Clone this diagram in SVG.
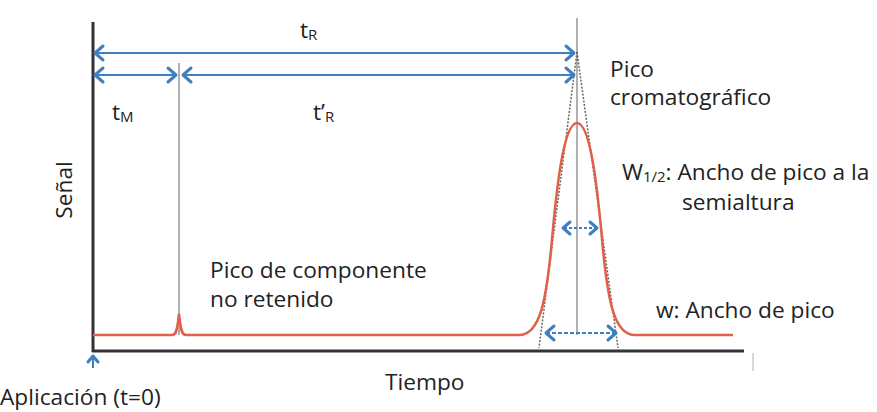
<svg xmlns="http://www.w3.org/2000/svg" width="877" height="412" viewBox="0 0 877 412">
<style>
text{font-family:"Open Sans",Lato,"Liberation Sans",sans-serif;font-size:22.7px;fill:#222}
.sub{font-size:15px}
.blue{stroke:#3f7fc0;stroke-width:2;fill:none}
.head{stroke:#3f7fc0;stroke-width:3;fill:none;stroke-linecap:round;stroke-linejoin:round}
.gray{stroke:#b0b0b0;stroke-width:2;fill:none}
.tan{stroke:#666;stroke-width:1.5;stroke-dasharray:2 1.5;fill:none}
.red{stroke:#e0604a;stroke-width:2.5;fill:none}
</style>
<rect width="877" height="412" fill="#fff"/>
<g id="axes">
<line x1="93" y1="22" x2="93" y2="352" stroke="#333" stroke-width="3"/>
<line x1="92" y1="351" x2="744" y2="351" stroke="#333" stroke-width="3"/>
<line x1="753" y1="353" x2="753" y2="371" stroke="#ccc" stroke-width="1.5"/>
</g>
<g id="guides">
<line class="gray" x1="179" y1="63" x2="179" y2="335"/>
<line class="gray" x1="577" y1="18" x2="577" y2="335"/>
<line class="tan" x1="577" y1="52" x2="539" y2="348"/>
<line class="tan" x1="577" y1="52" x2="618" y2="348"/>
</g>
<g id="signal">
<path class="red" d="M93,335 H172 C176,335 177,330 178,322 L179,314 L180,322 C181,330 182,335 186,335 H520 C540,334 546,300 551,250 C556,193 563,123 577,123 C591,123 598,193 603,250 C608,300 614,334 634,335 H733"/>
</g>
<g id="connectors">
<line class="blue" x1="95" y1="53" x2="574" y2="53"/>
<polyline class="head" points="103,46 95,53 103,60"/>
<polyline class="head" points="566,46 574,53 566,60"/>
<line class="blue" x1="95" y1="75" x2="176" y2="75"/>
<polyline class="head" points="103,68 95,75 103,82"/>
<polyline class="head" points="168,68 176,75 168,82"/>
<line class="blue" x1="183" y1="75" x2="574" y2="75"/>
<polyline class="head" points="191,68 183,75 191,82"/>
<polyline class="head" points="566,68 574,75 566,82"/>
<line class="blue" x1="564" y1="228" x2="596" y2="228" stroke-dasharray="3 2"/>
<polyline class="head" points="570,222 563,228 570,234"/>
<polyline class="head" points="590,222 597,228 590,234"/>
<line class="blue" x1="546" y1="333" x2="615" y2="333" stroke-dasharray="4 2"/>
<polyline class="head" points="554,326 546,333 554,340"/>
<polyline class="head" points="608,326 616,333 608,340"/>
<line class="blue" x1="93" y1="356" x2="93" y2="368"/>
<polyline class="head" points="88,362 93,356 98,362"/>
</g>
<g id="labels">
<text x="300" y="38">t<tspan class="sub" dy="2">R</tspan></text>
<text x="112" y="120">t<tspan class="sub" dy="2">M</tspan></text>
<text x="313" y="120">t’<tspan class="sub" dy="2">R</tspan></text>
<text x="610" y="77">Pico</text>
<text x="610" y="105">cromatográfico</text>
<text x="622" y="180">W<tspan class="sub" dy="2">1/2</tspan><tspan dy="-2">: Ancho de pico a la</tspan></text>
<text x="682" y="210">semialtura</text>
<text x="210" y="278">Pico de componente</text>
<text x="210" y="307">no retenido</text>
<text x="656" y="318">w: Ancho de pico</text>
<text x="385" y="390">Tiempo</text>
<text x="0" y="405">Aplicación (t=0)</text>
<text transform="translate(72,190) rotate(-90)" text-anchor="middle">Señal</text>
</g>
</svg>
